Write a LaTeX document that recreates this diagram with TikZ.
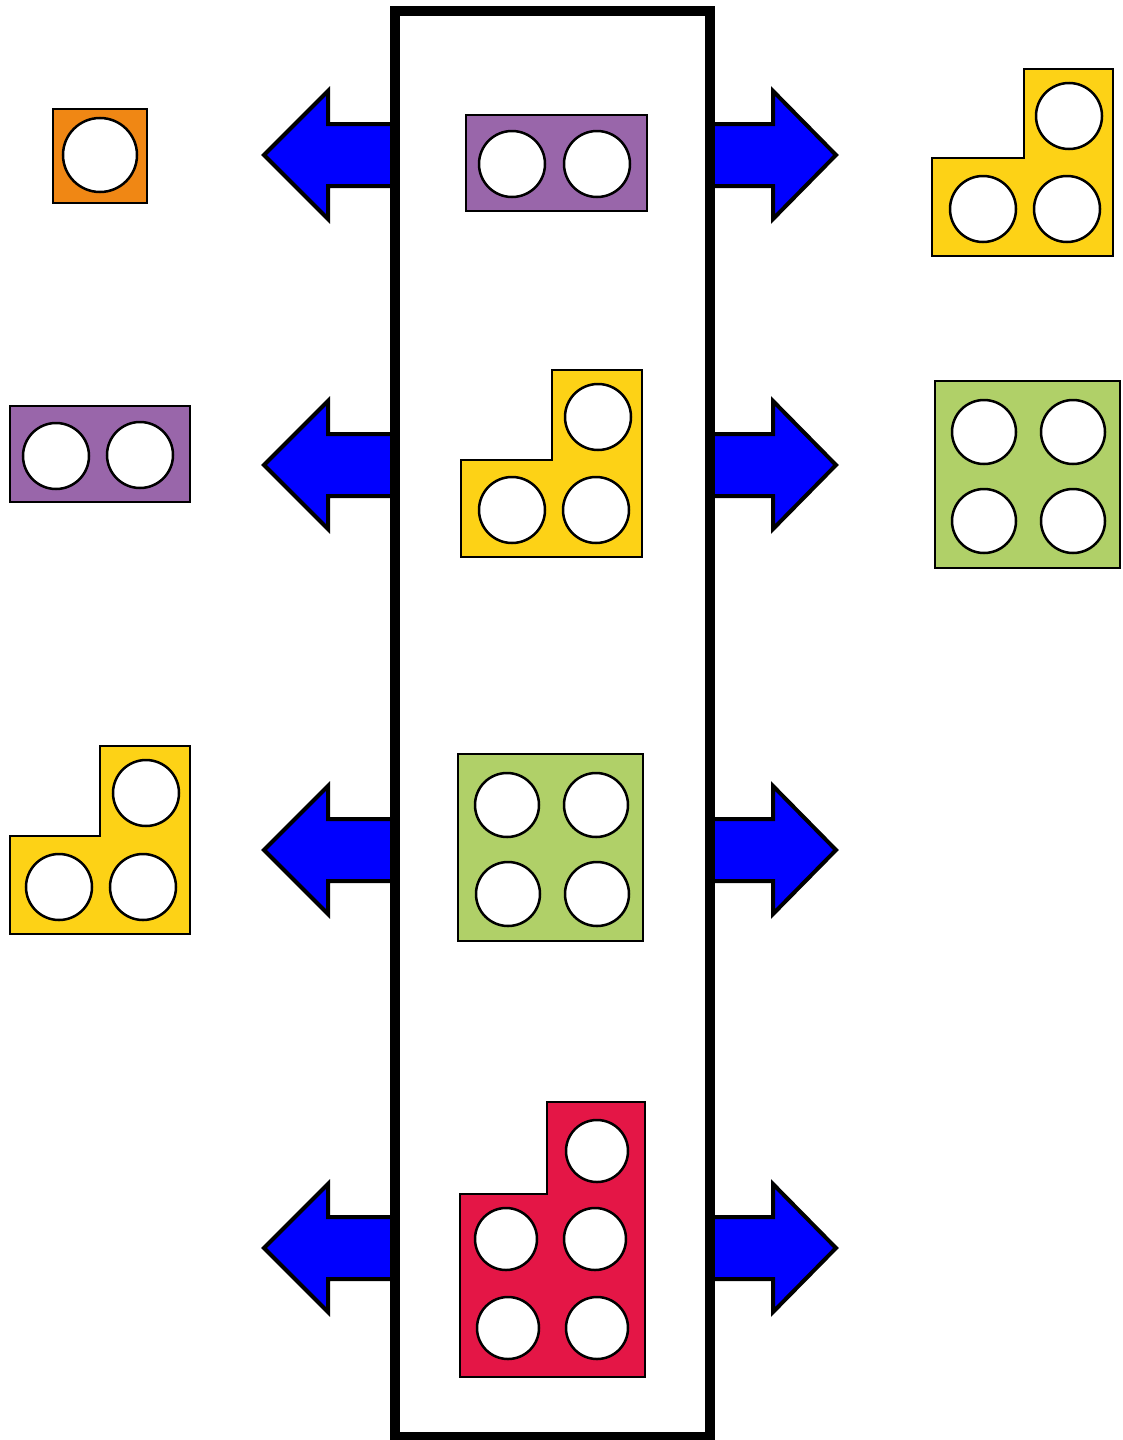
\documentclass[tikz,border=0pt]{standalone}
\definecolor{borange}{RGB}{240,135,20}
\definecolor{bpurple}{RGB}{153,102,170}
\definecolor{byellow}{RGB}{253,210,22}
\definecolor{bgreen}{RGB}{176,208,104}
\definecolor{bred}{RGB}{228,22,70}
\definecolor{bblue}{RGB}{0,0,255}
\begin{document}
\begin{tikzpicture}[x=1pt,y=-1pt,
  piece/.style={draw=black,line width=2pt,line join=miter},
  hole/.style={draw=black,fill=white,line width=2.5pt},
  bigarrow/.style={draw=black,fill=bblue,line width=4pt,line join=miter,miter limit=10},
  frame/.style={draw=black,line width=10pt}]
\useasboundingbox (0,0) rectangle (1123,1440);
% arrows
\foreach \c in {155,465,850,1248}{
  \draw[bigarrow] (395,\c-31) -- (328,\c-31) -- (328,\c-64) -- (264,\c) -- (328,\c+64) -- (328,\c+31) -- (395,\c+31);
  \draw[bigarrow] (709,\c-31) -- (773,\c-31) -- (773,\c-64) -- (836,\c) -- (773,\c+64) -- (773,\c+31) -- (709,\c+31);
}
% frame
\draw[frame] (394.5,11) rectangle (709.5,1437);
% orange
\draw[piece,fill=borange] (53,109) rectangle (147,203);
\draw[hole] (100,155) circle (37);
% purple center
\draw[piece,fill=bpurple] (466,115) rectangle (647,211);
\draw[hole] (512,164) circle (33);
\draw[hole] (597,164) circle (33);
% yellow top right
\draw[piece,fill=byellow] (1024,69) -- (1113,69) -- (1113,256) -- (932,256) -- (932,158) -- (1024,158) -- cycle;
\draw[hole] (1069,116) circle (33);
\draw[hole] (983,209) circle (33);
\draw[hole] (1067,209) circle (33);
% purple left
\draw[piece,fill=bpurple] (10,406) rectangle (190,502);
\draw[hole] (56,456) circle (33);
\draw[hole] (140,455) circle (33);
% yellow center
\draw[piece,fill=byellow] (552,370) -- (642,370) -- (642,557) -- (461,557) -- (461,460) -- (552,460) -- cycle;
\draw[hole] (598,417) circle (33);
\draw[hole] (512,510) circle (33);
\draw[hole] (596,510) circle (33);
% green right
\draw[piece,fill=bgreen] (935,381) rectangle (1120,568);
\draw[hole] (984,432) circle (32);
\draw[hole] (1073,432) circle (32);
\draw[hole] (984,521) circle (32);
\draw[hole] (1073,521) circle (32);
% yellow left
\draw[piece,fill=byellow] (100,746) -- (190,746) -- (190,934) -- (10,934) -- (10,836) -- (100,836) -- cycle;
\draw[hole] (146,793) circle (33);
\draw[hole] (59,887) circle (33);
\draw[hole] (143,887) circle (33);
% green center
\draw[piece,fill=bgreen] (458,754) rectangle (643,941);
\draw[hole] (507,805) circle (32);
\draw[hole] (596,805) circle (32);
\draw[hole] (508,894) circle (32);
\draw[hole] (597,894) circle (32);
% red
\draw[piece,fill=bred] (547,1102) -- (645,1102) -- (645,1377) -- (460,1377) -- (460,1194) -- (547,1194) -- cycle;
\draw[hole] (597,1151) circle (31);
\draw[hole] (506,1239) circle (31);
\draw[hole] (595,1239) circle (31);
\draw[hole] (508,1328) circle (31);
\draw[hole] (597,1328) circle (31);
\end{tikzpicture}
\end{document}
